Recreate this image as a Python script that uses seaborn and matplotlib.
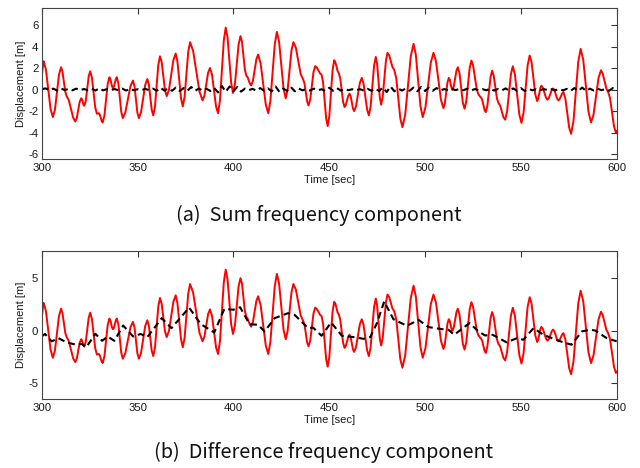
import numpy as np
import pandas as pd
import matplotlib
matplotlib.use("Agg")
import matplotlib.pyplot as plt
import seaborn as sns

# Incident wave elevation readings, time [s] and value [m]
wave_time = [
    300.0, 300.25, 300.75, 301.0, 302.2, 304.6, 305.8, 306.9, 309.0,
    310.1, 310.8, 312.3, 313.0, 314.1, 316.4, 317.5, 318.3, 319.8,
    320.6, 321.0, 321.8, 322.2, 323.0, 324.5, 325.3, 326.2, 327.9,
    328.8, 329.05, 329.55, 329.8, 330.3, 331.3, 331.8, 332.7, 334.4,
    335.3, 335.8, 336.7, 337.2, 337.7, 338.7, 339.2, 340.0, 341.5,
    342.3, 343.6, 346.3, 347.6, 348.4, 349.9, 350.7, 351.8, 354.0,
    355.1, 355.9, 357.4, 358.2, 359.1, 360.8, 361.7, 362.6, 364.3,
    365.2, 366.4, 368.7, 369.9, 370.8, 372.7, 373.6, 374.55, 376.45,
    377.4, 379.0, 382.3, 383.9, 384.9, 386.8, 387.8, 388.85, 390.95,
    392.0, 393.0, 395.0, 396.0, 396.95, 398.85, 399.8, 400.8, 402.7,
    403.7, 404.5, 406.0, 406.8, 407.4, 408.7, 409.3, 410.2, 412.0,
    412.9, 414.2, 416.9, 418.2, 419.3, 421.6, 422.7, 423.85, 426.15,
    427.3, 428.3, 430.3, 431.3, 432.6, 435.1, 436.4, 437.1, 438.5,
    439.2, 440.1, 441.8, 442.7, 443.5, 445.2, 446.0, 446.8, 448.4,
    449.2, 450.05, 451.75, 452.6, 453.2, 454.4, 455.0, 455.75, 457.25,
    458.0, 458.65, 459.95, 460.6, 461.2, 462.4, 463.0, 464.0, 466.0,
    467.0, 467.9, 469.8, 470.7, 471.6, 473.4, 474.3, 475.0, 476.4,
    477.1, 477.9, 479.6, 480.4, 481.3, 483.0, 483.9, 485.0, 487.1,
    488.2, 489.65, 492.55, 494.0, 495.2, 497.6, 498.8, 500.2, 503.0,
    504.4, 505.7, 508.3, 509.6, 510.3, 511.7, 512.4, 512.9, 513.8,
    514.3, 515.0, 516.4, 517.1, 518.0, 519.7, 520.6, 521.5, 523.3,
    524.2, 525.1, 527.0, 527.9, 528.2, 528.8, 529.1, 529.75, 531.05,
    531.7, 532.5, 534.2, 535.0, 535.8, 537.5, 538.3, 539.2, 540.9,
    541.8, 542.8, 544.8, 545.8, 546.9, 549.2, 550.3, 551.4, 553.5,
    554.6, 555.6, 557.5, 558.5, 559.05, 560.15, 560.7, 561.5, 563.1,
    563.9, 564.6, 566.1, 566.8, 567.5, 568.9, 569.6, 570.25, 571.55,
    572.2, 573.2, 575.2, 576.2, 577.45, 579.95, 581.2, 582.55, 585.25,
    586.6, 587.9, 590.5, 591.8, 592.7, 594.6, 595.5, 596.5, 598.6,
    599.6, 600.0]
wave_disp = [
    1.40, 1.59, 2.46, 2.65, 1.87, -1.78, -2.56, -1.86, 1.40,
    2.10, 1.70, -0.20, -0.60, -0.96, -2.61, -2.97, -2.64, -1.13,
    -0.80, -0.91, -1.40, -1.50, -1.02, 1.24, 1.72, 1.12, -1.65,
    -2.25, -2.24, -2.21, -2.20, -2.33, -2.93, -3.06, -2.43, 0.53,
    1.16, 1.01, 0.30, 0.15, 0.30, 1.01, 1.16, 0.59, -2.08,
    -2.65, -2.13, 0.33, 0.85, 0.33, -2.13, -2.65, -2.10, 0.45,
    1.00, 0.49, -1.89, -2.40, -1.57, 2.29, 3.12, 2.56, -0.04,
    -0.60, 0.00, 2.77, 3.37, 2.63, -0.82, -1.56, -0.66, 3.54,
    4.44, 3.62, -0.18, -1.00, -0.55, 1.58, 2.03, 1.40, -1.57,
    -2.20, -1.00, 4.60, 5.80, 4.89, 0.62, -0.30, 0.50, 4.21,
    5.00, 4.45, 1.86, 1.30, 1.17, 0.54, 0.40, 0.83, 2.85,
    3.28, 2.46, -1.38, -2.20, -1.06, 4.26, 5.40, 4.47, 0.13,
    -0.80, -0.01, 3.65, 4.44, 3.92, 1.47, 0.95, 0.59, -1.11,
    -1.47, -0.92, 1.65, 2.20, 2.08, 1.52, 1.40, 0.68, -2.68,
    -3.40, -2.48, 1.83, 2.75, 2.57, 1.73, 1.55, 1.07, -1.14,
    -1.62, -1.43, -0.56, -0.37, -0.61, -1.76, -2.00, -1.54, 0.64,
    1.10, 0.58, -1.88, -2.40, -1.58, 2.24, 3.06, 2.39, -0.73,
    -1.40, -0.67, 2.71, 3.44, 3.20, 2.11, 1.87, 1.06, -2.69,
    -3.50, -2.33, 3.11, 4.28, 3.25, -1.53, -2.56, -1.66, 2.54,
    3.44, 2.67, -0.95, -1.72, -1.30, 0.68, 1.10, 0.94, 0.17,
    0.00, 0.32, 1.79, 2.10, 1.52, -1.20, -1.78, -1.11, 2.05,
    2.72, 2.24, 0.01, -0.47, -0.50, -0.67, -0.70, -0.91, -1.89,
    -2.10, -1.52, 1.20, 1.78, 1.33, -0.80, -1.25, -1.48, -2.57,
    -2.80, -2.05, 1.44, 2.19, 1.40, -2.31, -3.10, -2.16, 2.25,
    3.19, 2.55, -0.42, -1.06, -0.85, 0.16, 0.37, 0.17, -0.74,
    -0.94, -0.78, -0.04, 0.12, -0.05, -0.83, -1.00, -0.88, -0.34,
    -0.22, -0.81, -3.54, -4.12, -2.93, 2.62, 3.81, 2.78, -2.03,
    -3.06, -2.33, 1.08, 1.81, 1.51, 0.10, -0.20, -0.77, -3.43,
    -4.00, -3.85]

# Sum-frequency (second-order, high-frequency) component, every 2 s
sum_time = list(range(300, 601, 2))
sum_disp = [0.05, 0.12, -0.05, 0.10, -0.08, 0.12, -0.04, 0.08, -0.06, 0.10,
            -0.05, 0.06, -0.04, 0.10, -0.08, 0.12, -0.06, 0.05, -0.04, 0.06,
            -0.05, 0.10, -0.08, 0.06, -0.05, 0.04, -0.06, 0.08, -0.05, 0.10,
            -0.10, 0.18, -0.08, 0.12, -0.10, 0.20, -0.12, 0.15, -0.10, 0.25,
            -0.10, 0.10, -0.08, 0.08, -0.12, 0.15, -0.25, 0.35, -0.20, 0.30,
            -0.15, 0.25, -0.18, 0.10, -0.05, 0.08, -0.10, 0.15, -0.10, 0.12,
            -0.15, 0.30, -0.20, 0.10, -0.10, 0.25, -0.15, 0.12, -0.06, 0.05,
            -0.08, 0.10, -0.06, 0.04, -0.12, 0.18, -0.10, 0.15, -0.08, 0.06,
            -0.05, 0.04, -0.06, 0.05, -0.08, 0.08, -0.10, 0.12, -0.12, 0.20,
            -0.22, 0.30, -0.15, 0.10, -0.08, 0.12, -0.10, 0.20, -0.15, 0.25,
            -0.12, 0.18, -0.10, 0.15, -0.08, 0.06, -0.05, 0.06, -0.04, 0.08,
            -0.06, 0.10, -0.08, 0.06, -0.05, 0.05, -0.06, 0.10, -0.08, 0.06,
            -0.08, 0.12, -0.10, 0.12, -0.10, 0.15, -0.12, 0.08, -0.06, 0.04,
            -0.04, 0.05, -0.04, 0.04, -0.05, 0.05, -0.06, 0.08, -0.10, 0.15,
            -0.12, 0.20, -0.12, 0.10, -0.08, 0.10, -0.05, 0.06, -0.10, 0.15,
            0.05]

# Difference-frequency (slowly varying) component
diff_time = [300.0, 301.7, 305.2, 308.7, 313.0, 317.5, 321.0, 323.3, 328.0, 331.5,
             334.4, 337.9, 342.5, 347.7, 351.6, 355.1, 362.6, 367.7, 376.9, 383.0,
             390.0, 395.3, 400.0, 403.5, 408.4, 412.8, 416.3, 421.5, 428.5, 432.0,
             439.0, 441.6, 446.0, 451.0, 456.6, 462.7, 467.9, 471.4, 474.9, 478.7,
             483.5, 490.5, 496.6, 501.8, 508.8, 512.2, 515.2, 523.2, 527.9, 531.3,
             535.3, 542.6, 547.9, 551.3, 556.6, 561.8, 567.0, 572.2, 576.5, 581.8,
             586.1, 588.7, 594.8, 600.0]
diff_disp = [-0.54, -0.30, -1.00, -0.70, -1.10, -1.30, -1.26, -1.55, -0.28, -0.95,
             -0.54, -0.95, 0.50, -0.54, -0.30, -0.60, 1.20, 0.25, 2.20, 0.63,
             -0.16, 2.08, 2.00, 2.24, 0.63, 0.57, -0.06, 1.20, 1.67, 1.50,
             0.25, 0.30, -0.47, 0.79, -0.47, -0.60, -0.76, -0.60, 0.73, 2.78,
             1.10, 0.47, 1.04, 0.35, 0.16, 0.10, -0.38, 0.73, -0.06, -0.44,
             -0.38, -1.10, -0.70, -0.85, 0.25, -0.38, -0.76, -1.10, -1.32, -0.06,
             0.10, 0.03, -0.70, -1.00]

x_ticks = [300, 350, 400, 450, 500, 550, 600]
y_ticks_sum = [-6, -4, -2, 0, 2, 4, 6]
y_ticks_diff = [-5, 0, 5]
captions = ["(a)  Sum frequency component", "(b)  Difference frequency component"]

wave = pd.DataFrame({"t": wave_time, "d": wave_disp})
sum_df = pd.DataFrame({"t": sum_time, "d": sum_disp})
diff_df = pd.DataFrame({"t": diff_time, "d": diff_disp})

sns.set_theme(style="white")
plt.rcParams["font.family"] = ["Liberation Sans", "DejaVu Sans"]

fig = plt.figure(figsize=(6.4, 4.68), dpi=100)
ax_a = fig.add_axes([0.0652, 0.6596, 0.8984, 0.3227])
ax_b = fig.add_axes([0.0652, 0.1468, 0.8984, 0.3175])

dash = (0, (3.2, 2.0))
for ax, comp, yt in [(ax_a, sum_df, y_ticks_sum), (ax_b, diff_df, y_ticks_diff)]:
    sns.lineplot(data=wave, x="t", y="d", ax=ax, color="#ff0000", lw=1.4,
                 estimator=None, sort=False, solid_joinstyle="round")
    sns.lineplot(data=comp, x="t", y="d", ax=ax, color="black", lw=1.5,
                 estimator=None, sort=False, linestyle=dash)
    ax.set_xlim(300, 600)
    ax.set_ylim(-6.5, 7.6)
    ax.set_xticks(x_ticks)
    ax.set_yticks(yt)
    ax.set_xticklabels([str(v) for v in x_ticks])
    ax.set_yticklabels([str(v) for v in yt])
    ax.tick_params(direction="in", length=4, width=0.8, color="#333333",
                   labelsize=8.2, pad=2.5, top=True, right=True,
                   labelcolor="#1a1a1a")
    for s in ax.spines.values():
        s.set_color("#444444")
        s.set_linewidth(0.8)
    ax.set_xlabel("Time [sec]", fontsize=8.0, labelpad=1.5, color="#1a1a1a")
    ax.set_ylabel("Displacement [m]", fontsize=8.0, labelpad=1.5, color="#1a1a1a")

for ypos, xpos, text in [(0.5406, 0.4977, captions[0]), (0.034, 0.505, captions[1])]:
    fig.text(xpos, ypos, text, ha="center", va="center", fontsize=14.3,
             fontweight="light", family=["Noto Sans CJK KR", "DejaVu Sans"],
             color="#111111")

fig.savefig("out.png", dpi=100)
